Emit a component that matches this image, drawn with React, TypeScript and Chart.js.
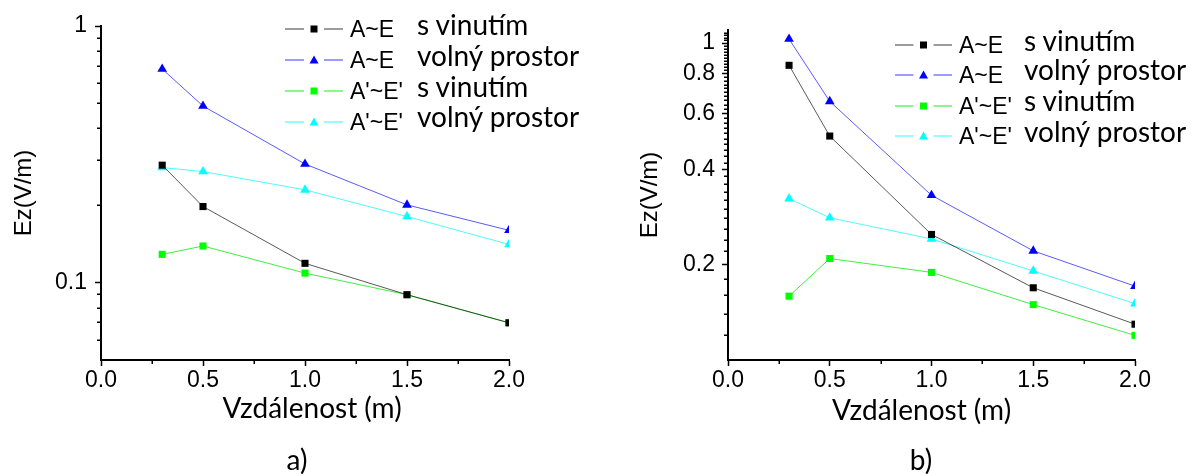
import React, { useEffect, useRef } from "react";
import { Chart, registerables } from "chart.js";

Chart.register(...registerables);

// ---------- data ----------
const distances = [0.3, 0.5, 1.0, 1.5, 2.0];

// chart a)
const aAEWinding = [0.287, 0.198, 0.119, 0.0898, 0.0698];
const aAEFree = [0.68, 0.488, 0.29, 0.201, 0.16];
const aA2E2Winding = [0.129, 0.139, 0.109, 0.0898, 0.0698];
const aA2E2Free = [0.281, 0.271, 0.23, 0.181, 0.141];

// chart b)
const bAEWinding = [0.851, 0.509, 0.249, 0.169, 0.1297];
const bAEFree = [1.03, 0.655, 0.331, 0.221, 0.171];
const bA2E2Winding = [0.159, 0.209, 0.189, 0.1495, 0.1196];
const bA2E2Free = [0.323, 0.281, 0.241, 0.191, 0.1506];

const seriesCodes = ["A~E", "A~E", "A'~E'", "A'~E'"];
const seriesDesc = ["s vinutím", "volný prostor", "s vinutím", "volný prostor"];

const xTitleText = "Vzdálenost (m)";
const yTitleText = "Ez(V/m)";

// ticks
const xMajorTicks = [0, 0.5, 1.0, 1.5, 2.0];
const xMinorTicks = [0.25, 0.75, 1.25, 1.75];
const aYMajorTicks = [0.1, 1];
const aYMinorTicks = [0.06, 0.07, 0.08, 0.09, 0.2, 0.3, 0.4, 0.5, 0.6, 0.7, 0.8, 0.9];
const bYMajorTicks = [0.2, 0.4, 0.6, 0.8, 1];
const bYMinorTicks = [
  0.12, 0.14, 0.16, 0.18,
  0.22, 0.24, 0.26, 0.28, 0.3, 0.32, 0.34, 0.36, 0.38,
  0.42, 0.44, 0.46, 0.48, 0.5, 0.52, 0.54, 0.56, 0.58,
  0.62, 0.64, 0.66, 0.68, 0.7, 0.72, 0.74, 0.76, 0.78,
  0.82, 0.84, 0.86, 0.88, 0.9, 0.92, 0.94, 0.96, 0.98,
  1.02, 1.04, 1.06, 1.08,
];

// ---------- styles ----------
const TICK_FONT = "'Liberation Sans', Arial, sans-serif";
const TEXT_FONT = "Lato, 'Open Sans', sans-serif";
const lineColors = ["rgba(0,0,0,0.65)", "#5a5aff", "#3ff03f", "#4dfcfc"];
const markerColors = ["#000000", "#0000ff", "#00ff00", "#00ffff"];
const markerStyles = ["rect", "triangle", "rect", "triangle"];
const markerRadius = [5, 5.6, 5, 5.6];

const minorTicksPlugin = {
  id: "minorTicks",
  afterDraw(chart: any, _args: any, opts: any) {
    const ctx = chart.ctx;
    const xs = chart.scales.x;
    const ys = chart.scales.y;
    ctx.save();
    ctx.strokeStyle = "#000";
    ctx.lineWidth = 1.5;
    ctx.beginPath();
    for (const v of opts.x || []) {
      const px = Math.round(xs.getPixelForValue(v)) + 0.25;
      ctx.moveTo(px, xs.top);
      ctx.lineTo(px, xs.top + 4);
    }
    for (const v of opts.y || []) {
      const py = Math.round(ys.getPixelForValue(v)) + 0.25;
      ctx.moveTo(ys.right - 4, py);
      ctx.lineTo(ys.right, py);
    }
    ctx.stroke();
    ctx.restore();
  },
};

// x-axis title, centred on the x scale with a small horizontal offset
const xTitlePlugin = {
  id: "xTitle",
  afterDraw(chart: any, _args: any, opts: any) {
    const ctx = chart.ctx;
    const xs = chart.scales.x;
    ctx.save();
    ctx.fillStyle = "#000";
    ctx.font = `${opts.size}px ${TEXT_FONT}`;
    ctx.textAlign = "center";
    ctx.textBaseline = "middle";
    ctx.fillText(opts.text, (xs.left + xs.right) / 2 + opts.dx, opts.y);
    ctx.restore();
  },
};

type ChartCfg = {
  width: number;
  height: number;
  series: number[][];
  yMin: number;
  yMax: number;
  yMajor: number[];
  yMinor: number[];
  yLabel: (v: number) => string;
  padTop: number;
  padRight: number;
  yAxisWidth: number;
  yTitlePad: number;
  yTickPad: number;
  xAxisHeight: number;
  xTitleY: number;
  xTitleDx: number;
};

function EzChart({ cfg }: { cfg: ChartCfg }) {
  const ref = useRef<HTMLCanvasElement | null>(null);
  useEffect(() => {
    if (!ref.current) return;
    const datasets = cfg.series.map((vals, i) => ({
      label: seriesCodes[i] + " " + seriesDesc[i],
      data: distances.map((d, j) => ({ x: d, y: vals[j] })),
      borderColor: lineColors[i],
      borderWidth: 1,
      backgroundColor: markerColors[i],
      pointBackgroundColor: markerColors[i],
      pointBorderColor: markerColors[i],
      pointBorderWidth: 0,
      pointStyle: markerStyles[i],
      pointRadius: markerRadius[i],
      pointHoverRadius: markerRadius[i],
      tension: 0,
      fill: false,
    }));
    const chart = new Chart(ref.current, {
      type: "line",
      data: { datasets },
      plugins: [minorTicksPlugin, xTitlePlugin],
      options: {
        animation: false,
        responsive: false,
        maintainAspectRatio: false,
        events: [],
        layout: {
          padding: { left: 0, top: cfg.padTop, right: cfg.padRight, bottom: 0 },
        },
        plugins: {
          legend: { display: false },
          tooltip: { enabled: false },
          // @ts-ignore
          minorTicks: { x: xMinorTicks, y: cfg.yMinor },
          // @ts-ignore
          xTitle: { text: xTitleText, size: 28, y: cfg.xTitleY, dx: cfg.xTitleDx },
        },
        scales: {
          x: {
            type: "linear",
            position: "bottom",
            min: 0,
            max: 2,
            afterBuildTicks: (s: any) => {
              s.ticks = xMajorTicks.map((v) => ({ value: v }));
            },
            afterFit: (s: any) => {
              s.height = cfg.xAxisHeight;
            },
            ticks: {
              autoSkip: false,
              maxRotation: 0,
              color: "#000",
              padding: 1,
              font: { family: TICK_FONT, size: 23 },
              callback: (v: any) => Number(v).toFixed(1),
            },
            grid: {
              drawOnChartArea: false,
              drawTicks: true,
              tickLength: 6,
              tickColor: "#000",
              tickWidth: 1.5,
            },
            border: { display: true, color: "#000", width: 2 },
            title: { display: false },
          },
          y: {
            type: "logarithmic",
            position: "left",
            min: cfg.yMin,
            max: cfg.yMax,
            bounds: "data",
            afterBuildTicks: (s: any) => {
              s.ticks = cfg.yMajor.map((v) => ({ value: v }));
            },
            afterFit: (s: any) => {
              s.width = cfg.yAxisWidth;
            },
            ticks: {
              autoSkip: false,
              color: "#000",
              padding: cfg.yTickPad,
              font: { family: TICK_FONT, size: 23 },
              callback: (v: any) => cfg.yLabel(Number(v)),
            },
            grid: {
              drawOnChartArea: false,
              drawTicks: true,
              tickLength: 6,
              tickColor: "#000",
              tickWidth: 1.5,
            },
            border: { display: true, color: "#000", width: 2 },
            title: {
              display: true,
              text: yTitleText,
              color: "#000",
              font: { family: TICK_FONT, size: 24 },
              padding: { top: cfg.yTitlePad, bottom: 0 },
            },
          },
        },
      } as any,
    });
    return () => chart.destroy();
  }, []);
  return (
    <canvas
      ref={ref}
      width={cfg.width}
      height={cfg.height}
      style={{ width: cfg.width, height: cfg.height, display: "block" }}
    />
  );
}

function LegendSymbol({ i, w }: { i: number; w: number }) {
  const h = 16;
  const c = h / 2;
  const mid = w / 2;
  const gap = 10;
  const marker =
    markerStyles[i] === "rect" ? (
      <rect x={mid - 3.5} y={c - 3.5} width={7} height={7} fill={markerColors[i]} />
    ) : (
      <polygon
        points={`${mid},${c - 4.5} ${mid + 4.5},${c + 3.5} ${mid - 4.5},${c + 3.5}`}
        fill={markerColors[i]}
      />
    );
  return (
    <svg width={w} height={h} style={{ display: "block" }}>
      <line x1={0} y1={c} x2={mid - gap} y2={c} stroke={lineColors[i]} strokeWidth={1.2} />
      <line x1={mid + gap} y1={c} x2={w} y2={c} stroke={lineColors[i]} strokeWidth={1.2} />
      {marker}
    </svg>
  );
}

type LegendCfg = {
  lineStart: number;
  lineEnd: number;
  codeX: number;
  descX: number;
  rows: number[]; // code baseline per row
};

function Legend({ cfg }: { cfg: LegendCfg }) {
  const w = cfg.lineEnd - cfg.lineStart;
  return (
    <>
      {cfg.rows.map((base, i) => (
        <React.Fragment key={i}>
          <div style={{ position: "absolute", left: cfg.lineStart, top: base - 8 - 9 }}>
            <LegendSymbol i={i} w={w} />
          </div>
          <span
            style={{
              position: "absolute",
              left: cfg.codeX,
              top: base - 20,
              fontFamily: TICK_FONT,
              fontSize: 23,
              lineHeight: "23px",
              whiteSpace: "nowrap",
              color: "#000",
            }}
          >
            {seriesCodes[i]}
          </span>
          <span
            style={{
              position: "absolute",
              left: cfg.descX,
              top: base - 3.5 - 24.8,
              fontFamily: TEXT_FONT,
              fontSize: 28,
              lineHeight: "28px",
              whiteSpace: "nowrap",
              color: "#000",
            }}
          >
            {seriesDesc[i]}
          </span>
        </React.Fragment>
      ))}
    </>
  );
}

const leftCfg: ChartCfg = {
  width: 600,
  height: 475,
  series: [aAEWinding, aAEFree, aA2E2Winding, aA2E2Free],
  yMin: 0.05,
  yMax: 1,
  yMajor: aYMajorTicks,
  yMinor: aYMinorTicks,
  yLabel: (v) => (v >= 1 ? "1" : "0.1"),
  padTop: 26,
  padRight: 91,
  yAxisWidth: 101,
  yTitlePad: 10,
  yTickPad: 8,
  xAxisHeight: 115,
  xTitleY: 409,
  xTitleDx: 7,
};

const rightCfg: ChartCfg = {
  width: 591,
  height: 475,
  series: [bAEWinding, bAEFree, bA2E2Winding, bA2E2Free],
  yMin: 0.1,
  yMax: 1.1,
  yMajor: bYMajorTicks,
  yMinor: bYMinorTicks,
  yLabel: (v) => (Math.abs(v - 1) < 1e-9 ? "1" : v.toFixed(1)),
  padTop: 30,
  padRight: 56,
  yAxisWidth: 128,
  yTitlePad: 36,
  yTickPad: 7,
  xAxisHeight: 115,
  xTitleY: 411,
  xTitleDx: -10,
};

const leftLegend: LegendCfg = {
  lineStart: 285,
  lineEnd: 343,
  codeX: 350,
  descX: 417,
  rows: [38.3, 69.3, 100, 130.7],
};

const rightLegend: LegendCfg = {
  lineStart: 895,
  lineEnd: 952,
  codeX: 959,
  descX: 1024,
  rows: [54, 83.5, 114.5, 145],
};

const captionStyle: React.CSSProperties = {
  position: "absolute",
  width: 40,
  top: 445,
  textAlign: "center",
  fontFamily: TEXT_FONT,
  fontSize: 28,
  lineHeight: "28px",
  color: "#000",
};

export default function App() {
  return (
    <div
      style={{
        position: "fixed",
        left: 0,
        top: 0,
        width: 1191,
        height: 475,
        background: "#fff",
        overflow: "hidden",
      }}
    >
      <div style={{ position: "absolute", left: 0, top: 0 }}>
        <EzChart cfg={leftCfg} />
      </div>
      <div style={{ position: "absolute", left: 600, top: 0 }}>
        <EzChart cfg={rightCfg} />
      </div>
      <Legend cfg={leftLegend} />
      <Legend cfg={rightLegend} />
      <div style={{ ...captionStyle, left: 297 - 20 }}>a)</div>
      <div style={{ ...captionStyle, left: 921 - 20 }}>b)</div>
    </div>
  );
}
